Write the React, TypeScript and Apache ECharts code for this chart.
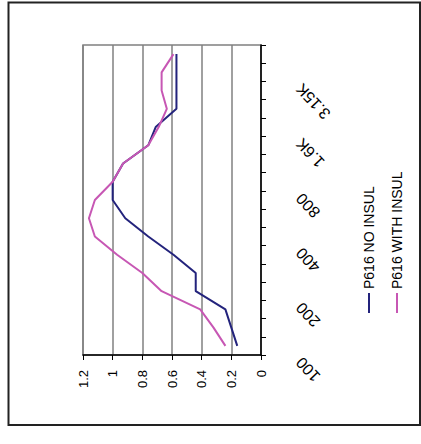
import React, { useEffect, useRef } from "react";
import * as echarts from "echarts";

const categories = ["100", "125", "160", "200", "250", "315", "400", "500", "630", "800", "1K", "1.25K", "1.6K", "2K", "2.5K", "3.15K", "4K"];
const noInsul = [0.16, 0.2, 0.24, 0.44, 0.44, 0.59, 0.76, 0.915, 1.0, 1.0, 0.93, 0.76, 0.71, 0.57, 0.57, 0.57, 0.57];
const withInsul = [0.24, 0.32, 0.41, 0.67, 0.8, 0.97, 1.12, 1.16, 1.12, 1.0, 0.93, 0.76, 0.69, 0.635, 0.67, 0.67, 0.59];
const seriesNames = ["P616 NO INSUL", "P616 WITH INSUL"];
const colors = ["#23237c", "#c757b4"];

const FONT = "'Liberation Sans', Arial, sans-serif";

export default function App() {
  const ref = useRef<HTMLDivElement>(null);
  useEffect(() => {
    if (!ref.current) return;
    const chart = echarts.init(ref.current, null, { renderer: "svg" });
    const legendX = [369, 397];
    chart.setOption({
      animation: false,
      backgroundColor: "#fff",
      grid: {
        left: 83,
        top: 45,
        width: 178,
        height: 310,
        show: true,
        borderColor: "#808080",
        borderWidth: 1.5,
      },
      xAxis: {
        type: "value",
        min: 0,
        max: 1.2,
        interval: 0.2,
        inverse: true,
        position: "bottom",
        axisLine: { show: true, lineStyle: { color: "#000", width: 1.5 } },
        axisTick: { show: true, length: 5, lineStyle: { color: "#000" } },
        splitLine: { show: true, lineStyle: { color: "#808080", width: 1.5 } },
        axisLabel: {
          rotate: 90,
          margin: 15,
          color: "#000",
          fontSize: 13,
          fontFamily: FONT,
          formatter: (v: number) => String(Math.round(v * 10) / 10),
        },
      },
      yAxis: {
        type: "category",
        data: categories,
        position: "right",
        boundaryGap: true,
        axisLine: { show: true, lineStyle: { color: "#000", width: 1.5 } },
        axisTick: { show: true, length: 5, interval: 0, lineStyle: { color: "#000" } },
        splitLine: { show: false },
        axisLabel: {
          interval: 2,
          rotate: 133,
          margin: 25,
          color: "#000",
          fontSize: 16,
          fontFamily: FONT,
          padding: [0, 19, 18, 0],
        },
      },
      series: [
        {
          name: seriesNames[0],
          type: "line",
          data: noInsul,
          showSymbol: false,
          symbol: "none",
          lineStyle: { color: colors[0], width: 2 },
        },
        {
          name: seriesNames[1],
          type: "line",
          data: withInsul,
          showSymbol: false,
          symbol: "none",
          lineStyle: { color: colors[1], width: 2 },
        },
      ],
      graphic: [
        {
          type: "rect",
          shape: { x: 8.5, y: 2.5, width: 411.5, height: 422.5 },
          style: { fill: "none", stroke: "#222", lineWidth: 2 },
          silent: true,
        },
        ...seriesNames.flatMap((name, i) => [
          {
            type: "line",
            shape: { x1: legendX[i], y1: 293, x2: legendX[i], y2: 313 },
            style: { stroke: colors[i], lineWidth: 2 },
            silent: true,
          },
          {
            type: "text",
            x: legendX[i],
            y: 289,
            rotation: Math.PI / 2,
            style: {
              text: name,
              fill: "#000",
              font: `14px ${FONT}`,
              align: "left",
              verticalAlign: "middle",
            },
            silent: true,
          },
        ]),
      ],
    });
    return () => chart.dispose();
  }, []);
  return (
    <div
      ref={ref}
      style={{ position: "fixed", left: 0, top: 0, width: 421, height: 444 }}
    />
  );
}
